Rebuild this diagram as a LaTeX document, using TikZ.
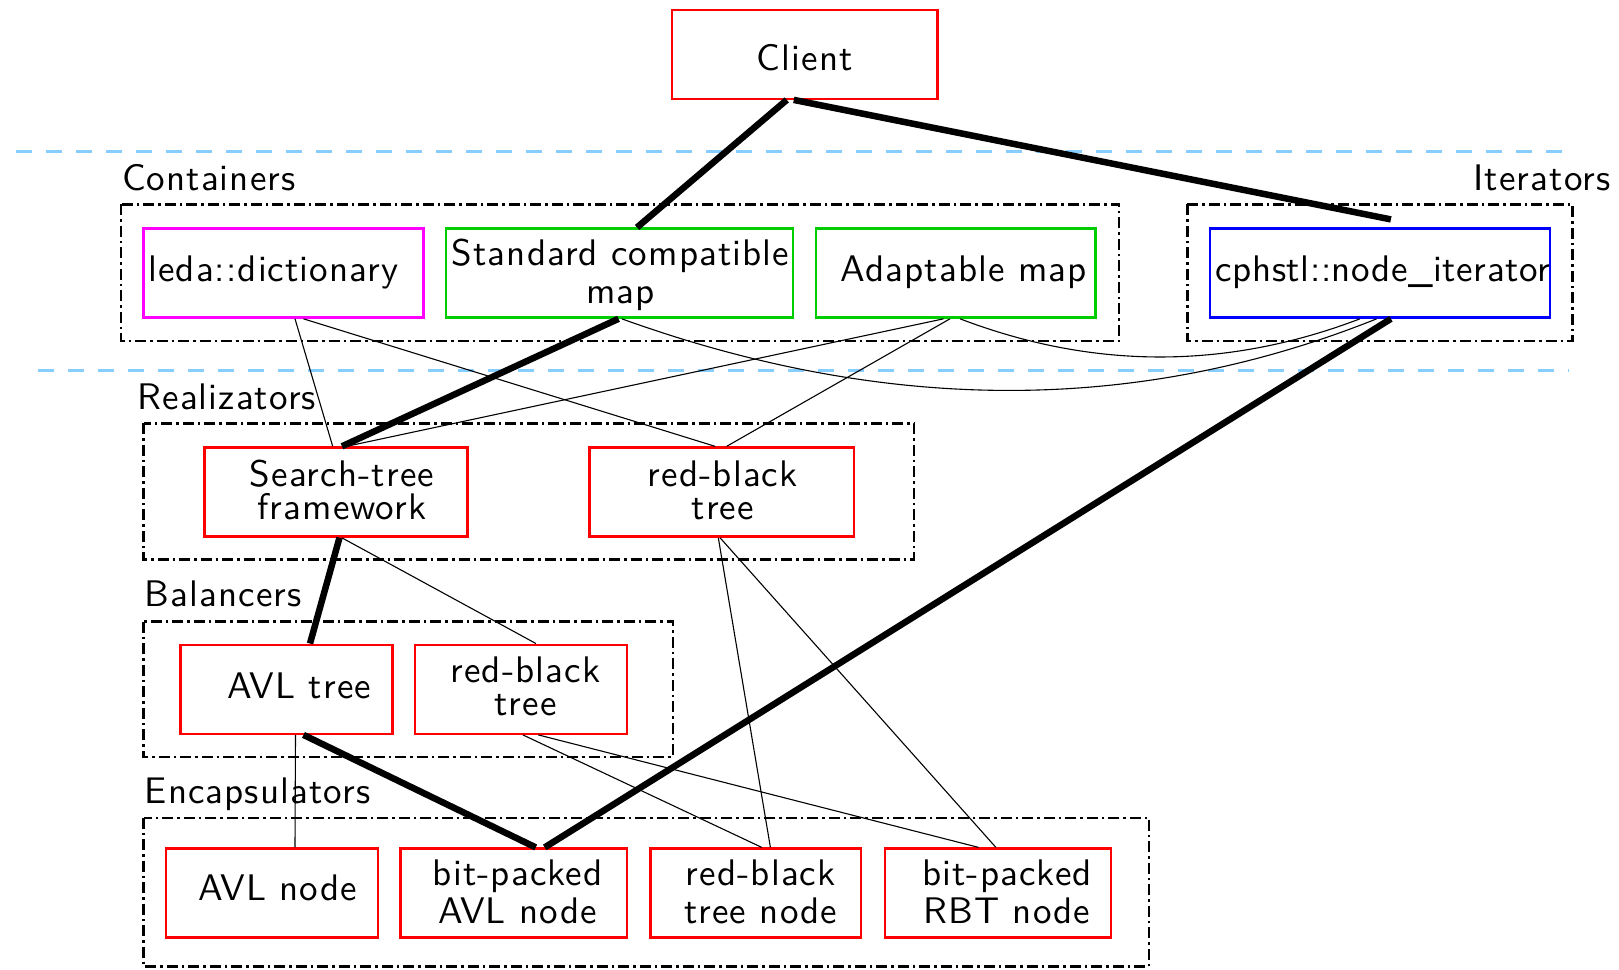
\documentclass[tikz,border=0pt]{standalone}
\usepackage{fontspec}
\setsansfont{lmsans10-regular.otf}[LetterSpace=3.0]
\usetikzlibrary{calc}
\definecolor{xred}{RGB}{255,0,0}
\definecolor{xmagenta}{RGB}{255,0,255}
\definecolor{xgreen}{RGB}{0,205,0}
\definecolor{xblue}{RGB}{0,0,255}
\definecolor{sepblue}{RGB}{135,206,255}
\begin{document}
\begin{tikzpicture}[x=1pt,y=-1pt,
  font=\fontsize{37}{38}\selectfont\sffamily,
  box/.style={draw, line width=2.4pt, minimum width=#1, minimum height=89pt,
    inner sep=0pt},
  txt/.style={inner sep=0pt, align=center},
  tight/.style={txt, font=\fontsize{37}{33}\selectfont\sffamily},
  group/.style={line width=2.4pt, dash pattern=on 11pt off 4pt on 2.5pt off 4pt},
  separator/.style={sepblue, line width=3pt, dash pattern=on 16pt off 14pt},
  heavy/.style={line width=6.5pt},
  light/.style={line width=1.1pt},
  caption/.style={inner sep=0pt}]

\fill[white] (0,0) rectangle (1619,969);
\useasboundingbox (0,0) rectangle (1619,969);

% layer separators
\draw[separator] (15.5,151.8) -- (1569,151.8);
\draw[separator] (38.2,370.7) -- (1569,370.7);

% layer frames
\draw[group] (120.8,204.4) rectangle (1119.2,340.7);
\draw[group] (1187.4,204.4) rectangle (1572.5,340.7);
\draw[group] (143.5,423.3) rectangle (913.8,559.6);
\draw[group] (143.5,621.6) rectangle (673.2,756.8);
\draw[group] (143.5,817.7) rectangle (1149.2,966.4);

% layer captions
\node[caption, anchor=base west] (capcont) at (121.8,190.5) {Containers};
\node[caption, anchor=base east] (capiter) at (1610.7,190.5) {Iterators};
\node[caption, anchor=base west] (capreal) at (137.3,409.5) {Realizators};
\node[caption, anchor=base west] (capbal) at (144.6,606) {Balancers};
\node[caption, anchor=base west] (capenc) at (144.6,803) {Encapsulators};

% component frames
\node[box=265.5, draw=xred] (client) at (804.8,54.2) {};
\node[box=279.8, draw=xmagenta] (leda) at (283.4,273.1) {};
\node[box=347, draw=xgreen] (scm) at (619.5,273.1) {};
\node[box=279.8, draw=xgreen] (adapt) at (955.6,273.1) {};
\node[box=339.8, draw=xblue] (iter) at (1379.9,273.1) {};
\node[box=263.3, draw=xred] (stf) at (336,492) {};
\node[box=264.3, draw=xred] (rbtr) at (721.7,492) {};
\node[box=211.7, draw=xred] (avlt) at (286.5,689.2) {};
\node[box=211.6, draw=xred] (rbtb) at (520.9,689.2) {};
\node[box=211.7, draw=xred] (avln) at (272,893.1) {};
\node[box=226.1, draw=xred] (bpavl) at (513.7,893.1) {};
\node[box=210.6, draw=xred] (rbtn) at (755.8,893.1) {};
\node[box=226.2, draw=xred] (bprbt) at (997.9,893.1) {};

% component names
\node[txt] (client-t) at ($(client)+(0,3)$) {Client};
\node[txt] (leda-t) at ($(leda)+(-10,-1)$) {leda::dictionary};
\node[txt] (scm-t) at ($(scm)+(1,2)$) {Standard compatible\\map};
\node[txt] (adapt-t) at ($(adapt)+(8,-1)$) {Adaptable map};
\node[txt] (iter-t) at ($(iter)+(3,-1)$) {\addfontfeature{LetterSpace=1.5}cphstl::node\_iterator};
\node[tight] (stf-t) at ($(stf)+(6,-2)$) {Search-tree\\framework};
\node[tight] (rbtr-t) at ($(rbtr)+(1,-2)$) {red-black\\tree};
\node[txt] (avlt-t) at ($(avlt)+(13,-3)$) {AVL tree};
\node[tight] (rbtb-t) at ($(rbtb)+(4.5,-3)$) {red-black\\tree};
\node[txt] (avln-t) at ($(avln)+(6,-5)$) {AVL node};
\node[txt] (bpavl-t) at ($(bpavl)+(4,-1)$) {bit-packed\\AVL node};
\node[txt] (rbtn-t) at ($(rbtn)+(5,-1)$) {red-black\\tree node};
\node[txt] (bprbt-t) at ($(bprbt)+(9,-1)$) {bit-packed\\RBT node};

% main call chain
\draw[heavy] ([xshift=-18pt]client.south) -- ([xshift=17.5pt]scm.north);
\draw[heavy] ([xshift=-11pt]client.south) -- ([xshift=11pt,yshift=8pt]iter.north);
\draw[heavy] ([xshift=-1pt]scm.south) -- ([xshift=6pt]stf.north);
\draw[heavy] ([xshift=11pt]iter.south) -- ([xshift=31pt]bpavl.north);
\draw[heavy] ([xshift=3.5pt]stf.south) -- ([xshift=23.5pt]avlt.north);
\draw[heavy] ([xshift=17pt]avlt.south) -- ([xshift=22pt]bpavl.north);

% further dependencies
\draw[light] ([xshift=11.6pt]leda.south) -- ([xshift=-3.3pt]stf.north);
\draw[light] ([xshift=20pt]leda.south) -- ([xshift=-6.7pt]rbtr.north);
\draw[light] ([xshift=-12pt]adapt.south) -- ([xshift=10.7pt]stf.north);
\draw[light] ([xshift=-5.6pt]adapt.south) -- ([xshift=5pt]rbtr.north);
\draw[light] ([xshift=2.2pt]scm.south) .. controls (886.6,414.3) and (1138.2,414.3) .. ([xshift=-3.2pt]iter.south);
\draw[light] ([xshift=4.4pt]adapt.south) .. controls (1093.3,369.7) and (1226.7,369.7) .. ([xshift=-19.9pt]iter.south);
\draw[light] ([xshift=5.7pt]stf.south) -- ([xshift=15pt]rbtb.north);
\draw[light] ([xshift=-3.4pt]rbtr.south) -- ([xshift=14.6pt]rbtn.north);
\draw[light] ([xshift=-1.7pt]rbtr.south) -- ([xshift=-2pt]bprbt.north);
\draw[light] ([xshift=9pt]avlt.south) -- ([xshift=23pt]avln.north);
\draw[light] ([xshift=2pt]rbtb.south) -- ([xshift=6pt]rbtn.north);
\draw[light] ([xshift=17.4pt]rbtb.south) -- ([xshift=-19.3pt]bprbt.north);
\end{tikzpicture}
\end{document}
